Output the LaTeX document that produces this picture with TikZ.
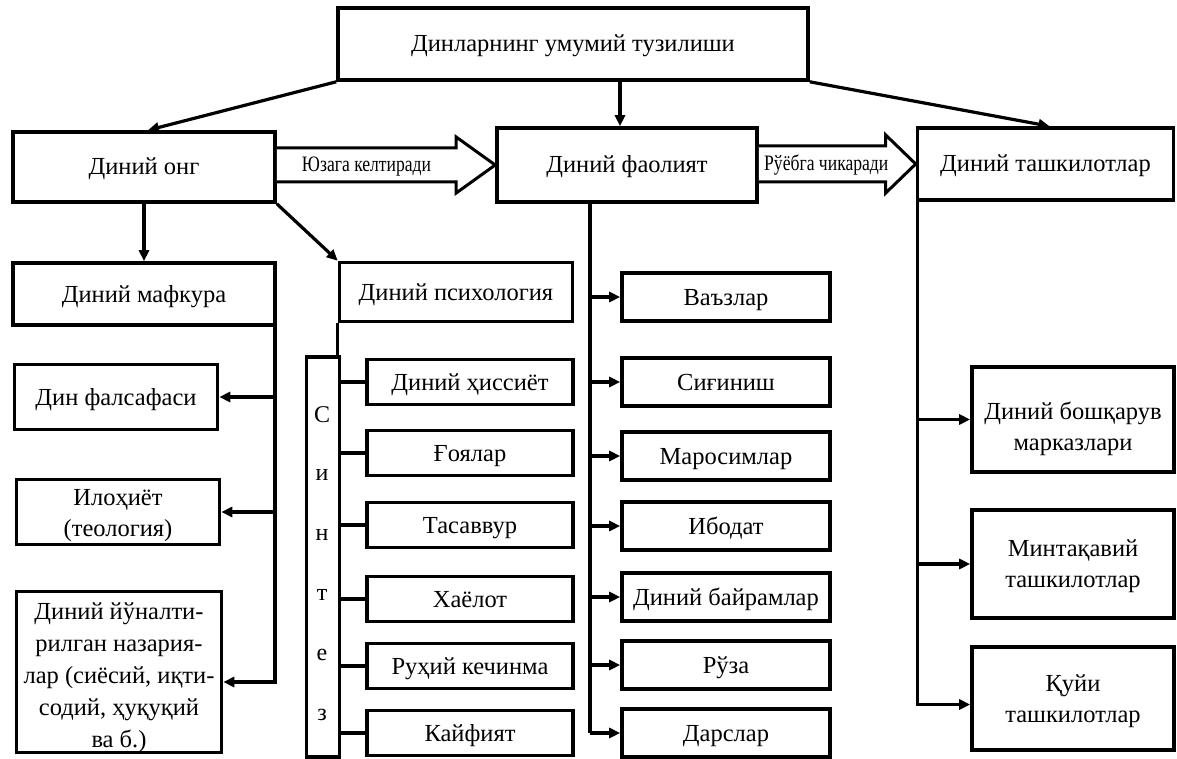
\documentclass[tikz,border=0pt]{standalone}
\usepackage{fontspec}
\setmainfont{Liberation Serif}
\usepackage{graphicx}
\usetikzlibrary{positioning,arrows.meta,calc}
\tikzset{
  box/.style={draw,line width=3.6pt,inner sep=2pt,align=center,
    font=\fontsize{24.5}{31}\selectfont},
  one/.style={text height=18pt,text depth=2pt},
  sz/.style 2 args={minimum width=#1,minimum height=#2},
  tag/.style={inner sep=0pt,text height=15pt,text depth=1pt,
    font=\fontsize{22}{22}\selectfont},
  >={Triangle[length=11pt,width=10pt]},
}
\newcommand{\narrowtxt}[1]{\scalebox{0.8}[1]{#1}}
\newcommand{\pushdown}[1]{\rule{0pt}{#1}}

\begin{document}
\begin{tikzpicture}[
  x=1pt,y=-1pt,
  line width=3.2pt,
  hollow/.style={draw,line width=3pt,fill=white,line join=miter}
]
\useasboundingbox (0,0) rectangle (1177,759);

% upper row
\node[box,one,sz={470pt}{72pt}] (top) at (573,44) {Динларнинг умумий тузилиши};
\node[box,one,sz={262pt}{70pt}] (ong) at (144,167) {Диний онг};
\node[box,one,sz={260pt}{74pt}] (faol) at (627,165) {Диний фаолият};
\node[box,one,sz={256pt}{72pt}] (tash) at (1045.5,164) {Диний ташкилотлар};

\draw[->] (top.south west) -- ([xshift=4pt]ong.north);
\draw[->] ([xshift=-7pt]faol.north |- top.south) -- ([xshift=-7pt]faol.north);
\draw[->] (top.south east) -- ([xshift=4pt]tash.north);

% hollow arrows between the main boxes
\draw[hollow] let \p1=(ong.east), \p2=(faol.west) in
  (\x1,\y2+17pt) -- (\x2-39pt,\y2+17pt) -- (\x2-39pt,\y2+28pt) -- (\p2)
  -- (\x2-39pt,\y2-28pt) -- (\x2-39pt,\y2-17pt) -- (\x1,\y2-17pt);
\path let \p1=(ong.east), \p2=(faol.west) in
  node[tag] (yuz) at ({(\x1+\x2-39pt)/2},\y2) {\narrowtxt{Юзага келтиради}};
\draw[hollow] let \p1=(faol.east), \p2=(tash.west) in
  (\x1,\y2+18pt) -- (\x2-30pt,\y2+18pt) -- (\x2-30pt,\y2+29pt) -- (\p2)
  -- (\x2-30pt,\y2-29pt) -- (\x2-30pt,\y2-18pt) -- (\x1,\y2-18pt);
\path let \p1=(faol.east), \p2=(tash.west) in
  node[tag] (ruyo) at ({(\x1+\x2-22pt)/2},\y2) {\narrowtxt{Рўёбга чикаради}};

% ideology
\node[box,one,sz={262pt}{62pt}] (mafk) at (144,294) {Диний мафкура};
\node[box,one,sz={203pt}{65pt}] (fals) at (116,397) {Дин фалсафаси};
\node[box,sz={203pt}{65pt}] (iloh) at (118,512) {\pushdown{24pt}Илоҳиёт\\(теология)};
\node[box,sz={205pt}{159pt},inner sep=0pt,font=\fontsize{24.5}{32}\selectfont]
  (nazar) at (119,672)
  {\pushdown{28pt}Диний йўналти-\\рилган назария-\\лар (сиёсий, иқти-\\содий, ҳуқуқий\\ва б.)};
\draw[->] (ong.south) -- (mafk.north);
\coordinate (mt) at ([xshift=-1.8pt]mafk.south east);
\draw[->] (mt) |- ([yshift=-10pt]nazar.east);
\draw[->] (mt |- fals.east) -- (fals.east);
\draw[->] (mt |- iloh.east) -- (iloh.east);

% psychology
\node[box,one,sz={233pt}{59pt}] (psix) at (456,292) {Диний психология};
\node[box,sz={33pt}{400pt},inner sep=0pt] (sint) at (323,557) {};
\foreach \l [count=\i] in {С,и,н,т,е,з}
  \node[font=\fontsize{24}{24}\selectfont,inner sep=0pt] (sl\i) at (322,355+60*\i) {\l};
\draw[->] (ong.south east) -- (psix.north west);
\draw (psix.south west) -- (psix.south west |- sint.north);
\foreach \n/\y/\t in {hiss/382/Диний ҳиссиёт, goya/453/Ғоялар,
    tasv/525/Тасаввур, xayo/599/Хаёлот, ruhk/666/Руҳий кечинма,
    kayf/733/Кайфият} {
  \node[box,one,sz={206pt}{45pt}] (\n) at (470,\y) {\t};
  \draw (sint.east |- \n.west) -- (\n.west);
}

% activity
\coordinate (ft) at ([xshift=-37pt]faol.south);
\foreach \n/\y/\t in {vaz/297/Ваъзлар, sig/382/Сиғиниш,
    maros/456/Маросимлар, ibod/526/Ибодат, bayr/597/Диний байрамлар,
    ruza/665/Рўза, dars/733/Дарслар} {
  \node[box,one,sz={208pt}{48pt}] (\n) at (726,\y) {\t};
  \draw[->] (ft |- \n.west) -- (\n.west);
}
\draw (ft) -- (ft |- dars.west);

% organisations
\node[box,sz={202pt}{105pt}] (boshq) at (1073,419.5) {\pushdown{36pt}Диний бошқарув\\марказлари};
\node[box,sz={202pt}{108pt}] (mint) at (1073,564) {\pushdown{22pt}Минтақавий\\ташкилотлар};
\node[box,sz={202pt}{103pt}] (quyi) at (1073,698.5) {\pushdown{22pt}Қуйи\\ташкилотлар};
\coordinate (tt) at ([xshift=1.8pt]tash.south west);
\draw[->] (tt) |- ([yshift=-6pt]quyi.west);
\draw[->] (tt |- boshq.west) -- (boshq.west);
\draw[->] (tt |- mint.west) -- (mint.west);

\end{tikzpicture}
\end{document}
